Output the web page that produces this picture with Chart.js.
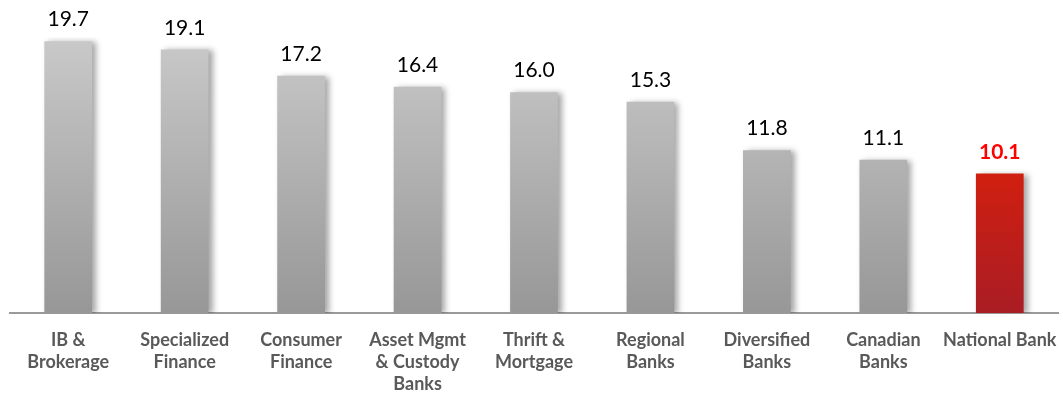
<!DOCTYPE html>
<html>
<head>
<meta charset="utf-8">
<script src="https://cdn.jsdelivr.net/npm/chart.js@4"></script>
<style>
  html, body { margin: 0; padding: 0; background: #fff; }
  #wrap { width: 1063px; height: 393px; }
</style>
</head>
<body>
<div id="wrap"><canvas id="peChart"></canvas></div>
<script>
const categories = [
    ['IB &', 'Brokerage'],
    ['Specialized', 'Finance'],
    ['Consumer', 'Finance'],
    ['Asset Mgmt', '& Custody', 'Banks'],
    ['Thrift &', 'Mortgage'],
    ['Regional', 'Banks'],
    ['Diversified', 'Banks'],
    ['Canadian', 'Banks'],
    'National Bank'
];
const values = [19.7, 19.1, 17.2, 16.4, 16.0, 15.3, 11.8, 11.1, 10.1];
const highlight = 8; // National Bank

// gradient fill per bar, grey for peers, red for the highlighted one
function barFill(context) {
    const chart = context.chart;
    const area = chart.chartArea;
    if (!area) return '#bbb';
    const el = context.element;
    const ctx = chart.ctx;
    const top = el && el.y ? el.y : area.top;
    const g = ctx.createLinearGradient(0, top, 0, area.bottom);
    if (context.dataIndex === highlight) {
        g.addColorStop(0, '#f02600');
        g.addColorStop(0.5, '#d01f10');
        g.addColorStop(1, '#a91d24');
    } else {
        g.addColorStop(0, '#c9c9c9');
        g.addColorStop(1, '#979797');
    }
    return g;
}

const shadowPlugin = {
    id: 'barShadow',
    beforeDatasetDraw(chart) {
        const ctx = chart.ctx;
        ctx.save();
        ctx.shadowColor = 'rgba(0,0,0,0.35)';
        ctx.shadowBlur = 6;
        ctx.shadowOffsetX = 4;
        ctx.shadowOffsetY = 1;
    },
    afterDatasetDraw(chart) {
        chart.ctx.restore();
    }
};

const valueLabels = {
    id: 'valueLabels',
    afterDatasetsDraw(chart) {
        const ctx = chart.ctx;
        const meta = chart.getDatasetMeta(0);
        ctx.save();
        ctx.textAlign = 'center';
        ctx.textBaseline = 'bottom';
        meta.data.forEach((bar, i) => {
            if (i === highlight) {
                ctx.fillStyle = '#ff0000';
                ctx.font = 'bold 21px Lato';
            } else {
                ctx.fillStyle = '#000000';
                ctx.font = '21px Lato';
            }
            ctx.fillText(values[i].toFixed(1), bar.x, bar.y - 11);
        });
        ctx.restore();
    }
};

document.addEventListener('DOMContentLoaded', () => {
    const ctx = document.getElementById('peChart').getContext('2d');
    new Chart(ctx, {
        type: 'bar',
        data: {
            labels: categories,
            datasets: [{
                data: values,
                backgroundColor: barFill,
                borderWidth: 0,
                barPercentage: 0.82,
                categoryPercentage: 0.5
            }]
        },
        options: {
            responsive: true,
            maintainAspectRatio: false,
            animation: false,
            layout: { padding: { top: 37, left: 10, right: 5, bottom: 0 } },
            plugins: {
                legend: { display: false },
                tooltip: { enabled: false }
            },
            scales: {
                x: {
                    grid: { display: false, drawTicks: false },
                    border: { display: true, color: '#9a9a9a', width: 2 },
                    ticks: {
                        color: '#595959',
                        font: { family: 'Lato', size: 18, weight: 'bold', lineHeight: 1.23 },
                        padding: 16,
                        maxRotation: 0,
                        autoSkip: false
                    },
                    afterFit(scale) {
                        scale.height = 80;
                        scale.paddingLeft = 0;
                        scale.paddingRight = 0;
                    }
                },
                y: {
                    display: false,
                    min: 0,
                    max: 20
                }
            }
        },
        plugins: [shadowPlugin, valueLabels]
    });
});
</script>
</body>
</html>
